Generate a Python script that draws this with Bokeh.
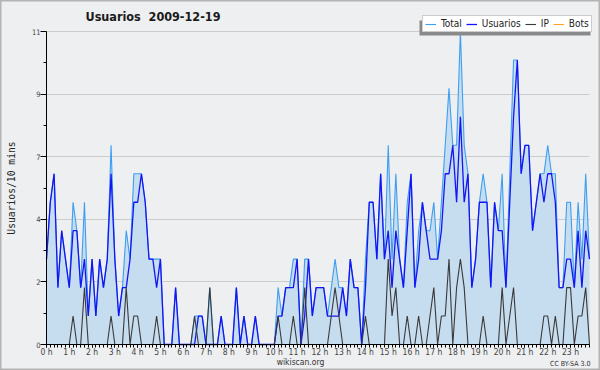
import math
from bokeh.plotting import figure
from bokeh.models import Range1d, FixedTicker, Legend, LegendItem, Label, BoxAnnotation
from bokeh.embed import file_html
from bokeh.resources import INLINE

# 10-minute slots of 2009-12-19 (index 0 = 00:00)
slots = list(range(144))

total = [3, 5, 6, 2, 4, 3, 2, 5, 4, 2,
         5, 1, 3, 1, 3, 2, 3, 7, 3, 1,
         2, 4, 3, 6, 6, 6, 5, 3, 3, 3,
         3, 0, 0, 0, 2, 0, 0, 0, 0, 1,
         1, 1, 0, 2, 0, 0, 1, 0, 0, 0,
         2, 0, 1, 0, 0, 1, 0, 0, 0, 0,
         0, 2, 1, 2, 2, 3, 3, 0, 3, 3,
         1, 2, 2, 2, 1, 2, 3, 2, 2, 1,
         3, 2, 2, 0, 3, 5, 5, 3, 6, 3,
         7, 3, 6, 3, 2, 5, 6, 2, 4, 5,
         4, 4, 5, 3, 5, 7, 9, 7, 7, 11,
         7, 6, 2, 3, 5, 6, 5, 2, 5, 4,
         6, 2, 6, 10, 10, 6, 7, 7, 4, 5,
         6, 6, 7, 6, 6, 2, 2, 5, 5, 2,
         5, 3, 6, 3]

usuarios = [3, 5, 6, 2, 4, 3, 2, 4, 4, 2,
            3, 1, 3, 1, 3, 2, 3, 6, 3, 1,
            2, 2, 3, 5, 5, 6, 5, 3, 3, 2,
            3, 0, 0, 0, 2, 0, 0, 0, 0, 0,
            1, 1, 0, 0, 0, 0, 1, 0, 0, 0,
            2, 0, 1, 0, 0, 1, 0, 0, 0, 0,
            0, 1, 1, 2, 2, 2, 3, 0, 1, 3,
            1, 2, 2, 2, 1, 1, 1, 1, 2, 1,
            3, 2, 2, 0, 2, 5, 5, 3, 6, 3,
            4, 2, 4, 3, 2, 4, 6, 2, 3, 5,
            4, 3, 3, 3, 4, 6, 6, 7, 5, 8,
            5, 6, 2, 3, 5, 5, 5, 2, 5, 4,
            4, 2, 5, 8, 10, 6, 7, 7, 4, 5,
            6, 5, 6, 6, 5, 2, 2, 3, 3, 2,
            4, 2, 4, 3]

ip = [0, 0, 0, 0, 0, 0, 0, 1, 0, 0,
      2, 0, 0, 0, 0, 0, 0, 1, 0, 0,
      0, 2, 0, 1, 1, 0, 0, 0, 0, 1,
      0, 0, 0, 0, 0, 0, 0, 0, 0, 1,
      0, 0, 0, 2, 0, 0, 0, 0, 0, 0,
      0, 0, 0, 0, 0, 0, 0, 0, 0, 0,
      0, 1, 0, 0, 0, 1, 0, 0, 2, 0,
      0, 0, 0, 0, 0, 1, 2, 1, 0, 0,
      0, 0, 0, 0, 1, 0, 0, 0, 0, 0,
      3, 1, 2, 0, 0, 1, 0, 0, 1, 0,
      0, 1, 2, 0, 1, 1, 3, 0, 2, 3,
      2, 0, 0, 0, 0, 1, 0, 0, 0, 0,
      2, 0, 1, 2, 0, 0, 0, 0, 0, 0,
      0, 1, 1, 0, 1, 0, 0, 2, 2, 0,
      1, 1, 2, 0]

bots = [0, 0, 0, 0, 0, 0, 0, 0, 0, 0, 0, 0, 0, 0, 0, 0, 0, 0, 0, 0, 0, 0, 0, 0,
        0, 0, 0, 0, 0, 0, 0, 0, 0, 0, 0, 0, 0, 0, 0, 0, 0, 0, 0, 0, 0, 0, 0, 0,
        0, 0, 0, 0, 0, 0, 0, 0, 0, 0, 0, 0, 0, 0, 0, 0, 0, 0, 0, 0, 0, 0, 0, 0,
        0, 0, 0, 0, 0, 0, 0, 0, 0, 0, 0, 0, 0, 0, 0, 0, 0, 0, 0, 0, 0, 0, 0, 0,
        0, 0, 0, 0, 0, 0, 0, 0, 0, 0, 0, 0, 0, 0, 0, 0, 0, 0, 0, 0, 0, 0, 0, 0,
        0, 0, 0, 0, 0, 0, 0, 0, 0, 0, 0, 0, 0, 0, 0, 0, 0, 0, 0, 0, 0, 0, 0, 0]

hour_ticks = [0, 6, 12, 18, 24, 30, 36, 42, 48, 54, 60, 66,
              72, 78, 84, 90, 96, 102, 108, 114, 120, 126, 132, 138]
hour_labels = ["0 h", "1 h", "2 h", "3 h", "4 h", "5 h", "6 h", "7 h",
               "8 h", "9 h", "10 h", "11 h", "12 h", "13 h", "14 h", "15 h",
               "16 h", "17 h", "18 h", "19 h", "20 h", "21 h", "22 h", "23 h"]
y_ticks = [0, 2.2, 4.4, 6.6, 8.8, 11]
y_labels = ["0", "2", "4", "7", "9", "11"]
y_minor = [1.1, 3.3, 5.5, 7.7, 9.9]

FONT = "DejaVu Sans Condensed"

# The frame covers the whole canvas; axes are pinned at x=0 / y=0 so that the
# title, legend and credits (drawn outside the data area) are not clipped.
W, H = 600, 370
PX_L, PX_R, PX_T, PX_B = 46, 589, 31, 344      # data area in canvas pixels
sx = (PX_R - PX_L) / 143.0
sy = (PX_B - PX_T) / 11.0


def dx(px):
    return (px - PX_L) / sx


def dy(py):
    return (PX_B - py) / sy


p = figure(width=W, height=H, output_backend="svg", toolbar_location=None,
           x_range=Range1d(dx(0), dx(W)), y_range=Range1d(dy(H), dy(0)),
           min_border_left=0, min_border_right=0, min_border_top=0, min_border_bottom=0)
p.background_fill_color = "#eeeff0"
p.border_fill_color = "#eeeff0"
p.outline_line_color = "#b4b4b4"
p.outline_line_width = 2

p.varea(x=slots, y1=bots, y2=total, fill_color="#c6dcef", fill_alpha=1)
r_total = p.line(slots, total, line_color="#3d9ff2", line_width=1.1)
r_user = p.line(slots, usuarios, line_color="#1414f5", line_width=1.3)
r_bots = p.line(slots, bots, line_color="#ffa020", line_width=1)
r_ip = p.line(slots, ip, line_color="#3a3a3a", line_width=1.1)

# grid
p.xgrid.visible = False
p.ygrid.grid_line_color = "#cccccc"
p.ygrid.ticker = FixedTicker(ticks=y_ticks)
p.ygrid.cross_bounds = (0, 143)

# axes
xa = p.xaxis[0]
xa.fixed_location = 0
xa.bounds = (0, 143)
xa.ticker = FixedTicker(ticks=hour_ticks, minor_ticks=slots)
xa.major_label_overrides = {t: l for t, l in zip(hour_ticks, hour_labels)}
xa.major_tick_out = 3
xa.major_tick_in = 0
xa.minor_tick_out = 3
xa.minor_tick_in = 0
xa.major_label_standoff = -1
xa.axis_line_color = "black"
xa.major_label_text_font = FONT
xa.major_label_text_font_size = "8.5px"
xa.major_label_text_color = "#444444"

ya = p.yaxis[0]
ya.fixed_location = 0
ya.bounds = (0, 11)
ya.ticker = FixedTicker(ticks=y_ticks, minor_ticks=y_minor)
ya.major_label_overrides = {t: l for t, l in zip(y_ticks, y_labels)}
ya.major_tick_out = 6
ya.major_tick_in = 0
ya.minor_tick_out = 3
ya.minor_tick_in = 0
ya.major_label_standoff = 0
ya.axis_line_color = "black"
ya.major_label_text_font = FONT
ya.major_label_text_font_size = "7.5px"
ya.major_label_text_color = "#444444"

# axis title, title and credits
p.add_layout(Label(x=dx(10.5), y=dy(187.5), text="Usuarios/10 mins", angle=math.pi / 2,
                   text_font="DejaVu Sans Mono", text_font_size="9.7px", text_color="#222222",
                   text_baseline="middle", text_align="center"))
p.add_layout(Label(x=dx(85), y=dy(16), text="Usuarios\u00a0 2009-12-19",
                   text_font=FONT, text_font_size="12.5px", text_font_style="bold",
                   text_color="#1a1a1a", text_baseline="middle", text_align="left"))
p.add_layout(Label(x=dx(300), y=dy(361), text="wikiscan.org",
                   text_font=FONT, text_font_size="8.5px", text_color="#333333",
                   text_baseline="middle", text_align="center"))
p.add_layout(Label(x=dx(590), y=dy(363), text="CC BY-SA 3.0",
                   text_font=FONT, text_font_size="7px", text_color="#333333",
                   text_baseline="middle", text_align="right"))

# legend with its shadow
p.add_layout(BoxAnnotation(left=dx(419), right=dx(590), top=dy(20), bottom=dy(35),
                           fill_color="#8a8a8a", fill_alpha=1, line_color=None))
legend = Legend(items=[LegendItem(label="Total", renderers=[r_total]),
                       LegendItem(label="Usuarios", renderers=[r_user]),
                       LegendItem(label="IP", renderers=[r_ip]),
                       LegendItem(label="Bots", renderers=[r_bots])],
                orientation="horizontal", location=(422, H - 32))
legend.border_line_color = "#999999"
legend.background_fill_color = "white"
legend.background_fill_alpha = 1
legend.label_text_font = FONT
legend.label_text_font_size = "10px"
legend.label_text_color = "#222222"
legend.glyph_width = 11
legend.glyph_height = 10
legend.label_height = 10
legend.label_width = 0
legend.label_standoff = 5
legend.spacing = 4
legend.padding = 2
legend.margin = 0
p.add_layout(legend)

open("out.html", "w").write(file_html(p, INLINE))
